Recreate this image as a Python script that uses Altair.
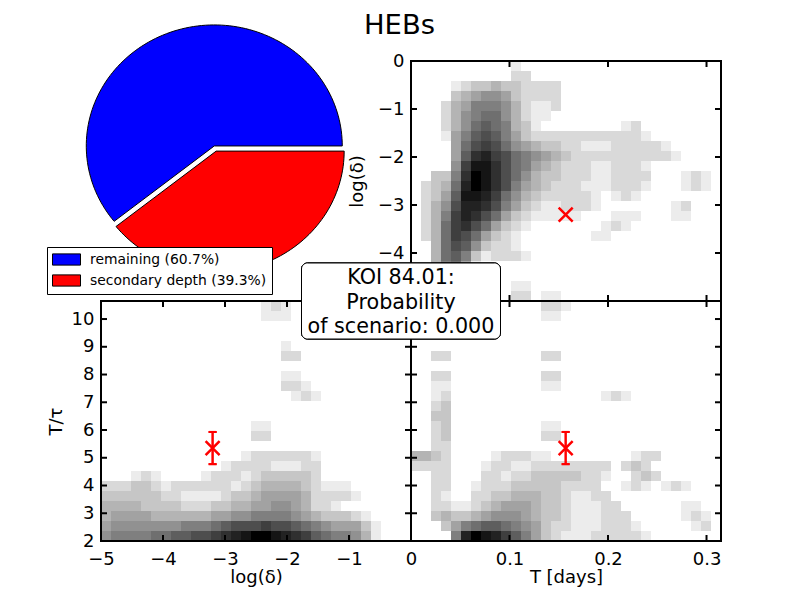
import math
import altair as alt
import pandas as pd

W, H = 310, 240
FONT = "DejaVu Sans"

shares = [60.7, 39.3]
labels = ["remaining (60.7%)", "secondary depth (39.3%)"]
pie_colors = ["#0000ff", "#ff0000"]
explode = [0.0, 0.045]

T_ticks = [0.1, 0.2, 0.3]
T_labels = [0, 0.1, 0.2, 0.3]
delta_ticks = [-4, -3, -2, -1]
delta_y_labels = [-4, -3, -2, -1, 0]
delta_x_labels = [-5, -4, -3, -2, -1]
ratio_ticks = [3, 4, 5, 6, 7, 8, 9, 10]
ratio_labels = [2, 3, 4, 5, 6, 7, 8, 9, 10]

T_dom = [0, 0.3147]
delta_dom = [-5, 0]
ratio_dom = [2, 10.65]

T_obs = 0.157
delta_obs = -3.2
ratio_obs = 5.35
ratio_err = 0.58

box_lines = ["KOI 84.01:", "Probability", "of scenario: 0.000"]

# Darkness, one hex digit per 10x10 px cell, top row first
grid_T_delta = [
    "00000000001",
    "000000000022",
    "000012334332222",
    "000034566532222",
    "000245777642112",
    "00024678864211",
    "000246898743100000000" + "12",
    "0001579a97532222222222" + "21",
    "000058aba8654332211122222" + "1",
    "000059cdba87654322222222221",
    "00006beeca87543222112221",
    "00337cfeca864332221122220001" + "21",
    "02348dfeca7543222111222100012" + "1",
    "02359eedb8643222221" + "0121",
    "0246addca7532112221" + "000000012",
    "0247bdca853211111000111000" + "11",
    "0248bca853210000000121",
    "0248ba85321000000011",
    "0048a963221",
    "004897312221",
    "0047851",
    "0046",
    "000000000011",
    "00000000002201" + "1",
]
grid_delta_ratio = [
    "0000000000000000121",
    "0000000000000000111",
    "",
    "",
    "0000000000000000001",
    "00000000000000000022",
    "",
    "00000000000000000011",
    "000000000000000000221",
    "0000000000000000000121",
    "",
    "",
    "00000000000000011",
    "00000000000000022",
    "",
    "0000000000000012222221",
    "0000000000001222211122",
    "0001210000122212333332",
    "2223321222222123444432111",
    "33333322111123345555422221",
    "444433332223344556654221",
    "455554444445566777765433321",
    "5666666677789aaabaa98765553" + "1",
    "677778899aabcdeffedcb9877641",
]
grid_T_ratio = [
    "0000000000000221",
    "000000000000011",
    "",
    "",
    "",
    "002200000000022",
    "",
    "002200000000022",
    "001100000000011",
    "0012000000000000000121",
    "0023",
    "0033",
    "002300000000011",
    "002300000000022",
    "0022",
    "4432000012221100000000122",
    "222200012211222222220232",
    "002200022122333332210023" + "2",
    "0022001222333332222001210121",
    "002100223344433211" + "22",
    "00221123455543321112200000011",
    "003433456665433211122200000121",
    "0003578998765322111222100000" + "12",
    "00007dfedb9753211122222" + "1",
]


def cells(rows, xdom, ydom):
    nc, nr = 31, 24
    dx = (xdom[1] - xdom[0]) / nc
    dy = (ydom[1] - ydom[0]) / nr
    out = []
    for r, row in enumerate(rows):
        for c, ch in enumerate(row):
            v = int(ch, 16)
            if v:
                out.append(dict(x0=xdom[0] + c * dx, x1=xdom[0] + (c + 1) * dx,
                                y0=ydom[1] - r * dy, y1=ydom[1] - (r + 1) * dy, v=v))
    return pd.DataFrame(out)


def axis_x(title, values, expr=None):
    kw = dict(title=title, values=values, grid=False, domain=False, ticks=False, labelPadding=9,
              titlePadding=0, labelFontSize=18, titleFontSize=18, labelFont=FONT, titleFont=FONT,
              labelColor="black", titleColor="black", titleFontWeight="normal", labelFlush=False,
              labelOverlap=False)
    if expr:
        kw["labelExpr"] = expr
    return alt.Axis(**kw)


def axis_y(title, values, pad):
    return alt.Axis(title=title, values=values, grid=False, domain=False, ticks=False, labelPadding=7,
                    titlePadding=pad, labelFontSize=18, titleFontSize=18, labelFont=FONT, titleFont=FONT,
                    labelColor="black", titleColor="black", titleFontWeight="normal", labelFlush=False,
                    labelOverlap=False)


def panel(rows, xdom, ydom, xaxis, yaxis, xticks, yticks, xobs, yobs, yerr=None, extra=None):
    xs = alt.Scale(domain=xdom, nice=False, zero=False)
    ys = alt.Scale(domain=ydom, nice=False, zero=False)
    heat = alt.Chart(cells(rows, xdom, ydom)).mark_rect(strokeWidth=0).encode(
        x=alt.X("x0:Q", scale=xs, axis=xaxis),
        x2="x1:Q",
        y=alt.Y("y0:Q", scale=ys, axis=yaxis),
        y2="y1:Q",
        color=alt.Color("v:Q", scale=alt.Scale(domain=[0, 15], range=["#ffffff", "#000000"]), legend=None),
    )
    layers = [heat]
    xt = pd.DataFrame({"t": xticks})
    yt = pd.DataFrame({"t": yticks})
    tick = dict(color="black", strokeWidth=2)
    X = alt.X("t:Q", scale=xs, axis=xaxis)
    Y = alt.Y("t:Q", scale=ys, axis=yaxis)
    layers.append(alt.Chart(xt).mark_rule(**tick).encode(x=X, y=alt.value(0), y2=alt.value(6)))
    layers.append(alt.Chart(xt).mark_rule(**tick).encode(x=X, y=alt.value(H - 6), y2=alt.value(H)))
    layers.append(alt.Chart(yt).mark_rule(**tick).encode(y=Y, x=alt.value(0), x2=alt.value(6)))
    layers.append(alt.Chart(yt).mark_rule(**tick).encode(y=Y, x=alt.value(W - 6), x2=alt.value(W)))
    layers.append(alt.Chart(xt).mark_rect(filled=False, stroke="black", strokeWidth=2).encode(
        x=alt.value(0), x2=alt.value(W), y=alt.value(0), y2=alt.value(H)))
    ob = pd.DataFrame({"x": [xobs], "y": [yobs]})
    OX = alt.X("x:Q", scale=xs, axis=xaxis)
    OY = alt.Y("y:Q", scale=ys, axis=yaxis)
    if yerr is not None:
        eb = pd.DataFrame({"x": [xobs, xobs], "lo": [yobs - yerr] * 2, "hi": [yobs + yerr] * 2})
        layers.append(alt.Chart(eb).mark_rule(color="#ff0000", strokeWidth=2).encode(
            x=OX, y=alt.Y("lo:Q", scale=ys, axis=yaxis), y2="hi:Q"))
        for f in ("lo", "hi"):
            layers.append(alt.Chart(eb).mark_point(shape="M-1,0L1,0", size=64, filled=False, color="#ff0000",
                                                   strokeWidth=2, opacity=1).encode(
                x=OX, y=alt.Y(f + ":Q", scale=ys, axis=yaxis)))
    layers.append(alt.Chart(ob).mark_point(shape="M-1,-1L1,1M-1,1L1,-1", size=196, filled=False, color="#ff0000",
                                           strokeWidth=2.5, opacity=1).encode(x=OX, y=OY))
    if extra:
        layers.extend(extra)
    return alt.layer(*layers).properties(width=W, height=H)


# Pie: slices computed from the shares, drawn through x/y scales so that it can be elliptical
def wedge_rows():
    out = []
    start = 0.0
    for share, lab, ex in zip(shares, labels, explode):
        span = share / 100 * 2 * math.pi
        mid = start + span / 2
        cx, cy = ex * math.cos(mid), ex * math.sin(mid)
        out.append(dict(label=lab, px=cx, py=cy, o=0))
        n = int(share * 2)
        for i in range(n + 1):
            a = start + span * i / n
            out.append(dict(label=lab, px=cx + math.cos(a), py=cy + math.sin(a), o=i + 1))
        start += span
    return pd.DataFrame(out)


pie_x = alt.Scale(domain=[-0.885, 1.537], nice=False, zero=False)
pie_y = alt.Scale(domain=[-1.281, 0.702], nice=False, zero=False)
pie = alt.Chart(wedge_rows()).mark_line(interpolate="linear-closed", stroke="black", strokeWidth=1).encode(
    x=alt.X("px:Q", scale=pie_x, axis=None),
    y=alt.Y("py:Q", scale=pie_y, axis=None),
    order="o:Q",
    fill=alt.Fill("label:N", scale=alt.Scale(domain=labels, range=pie_colors), legend=alt.Legend(
        orient="none", legendX=-54, legendY=186, title=None, fillColor="white", strokeColor="black",
        padding=5, labelFontSize=13.9, labelFont=FONT, labelColor="black", symbolType="M-2,-0.8H2V0.8H-2Z",
        symbolSize=196, symbolStrokeColor="black", symbolStrokeWidth=1, symbolOpacity=1, labelLimit=300,
        symbolOffset=7, labelOffset=16, rowPadding=4)),
)
title = alt.Chart(pd.DataFrame({"t": ["HEBs"]})).mark_text(
    font=FONT, fontSize=27.4, align="center", baseline="alphabetic", color="black").encode(
    text="t:N", x=alt.value(298.5), y=alt.value(-27))
top_left = alt.layer(pie, title).properties(width=W, height=H)

top_right = panel(grid_T_delta, T_dom, delta_dom, None, axis_y("log(δ)", delta_y_labels, 11),
                  T_ticks, delta_ticks, T_obs, delta_obs)
bottom_left = panel(grid_delta_ratio, delta_dom, ratio_dom, axis_x("log(δ)", delta_x_labels),
                    axis_y("T/τ", ratio_labels, 6), delta_x_labels[1:], ratio_ticks, delta_obs, ratio_obs, ratio_err)

box = [alt.Chart(pd.DataFrame({"t": box_lines})).mark_rect(fill="white", stroke="black", strokeWidth=1, cornerRadius=6).encode(
    x=alt.value(-109.5), x2=alt.value(89.5), y=alt.value(-38), y2=alt.value(38))]
for line, base in zip(box_lines, [-17, 7.5, 32]):
    box.append(alt.Chart(pd.DataFrame({"t": [line]})).mark_text(
        font=FONT, fontSize=20.7, align="center", baseline="alphabetic", color="black").encode(
        text="t:N", x=alt.value(-10), y=alt.value(base)))

bottom_right = panel(grid_T_ratio, T_dom, ratio_dom,
                     axis_x("T [days]", T_labels, "datum.value == 0 ? '0' : format(datum.value, '.1f')"),
                     None, T_ticks, ratio_ticks, T_obs, ratio_obs, ratio_err, extra=box)

chart = alt.concat(top_left, top_right, bottom_left, bottom_right, columns=2, spacing=0, bounds="flush").properties(
    padding={"left": 38, "top": 4, "right": 5, "bottom": 5}
).configure_view(stroke=None).resolve_scale(color="independent", fill="independent", x="independent", y="independent")

chart.save("out.html", embed_options={"renderer": "svg", "actions": False})
